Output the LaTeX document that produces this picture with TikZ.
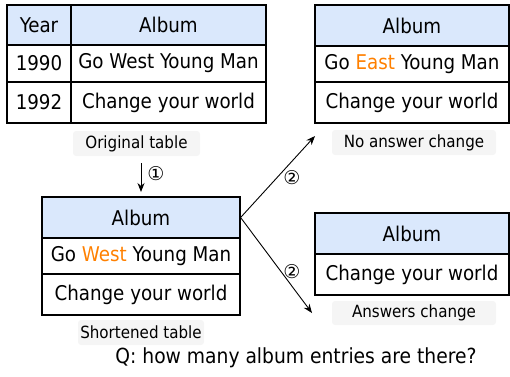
\documentclass[tikz,border=0pt]{standalone}
\usepackage{fontspec}
\setmainfont{DejaVu Sans Condensed}
\newfontfamily\symfont{DejaVu Sans}
\usetikzlibrary{arrows.meta}
\definecolor{hdrblue}{HTML}{DAE8FC}
\definecolor{hiorange}{HTML}{FF8000}
\definecolor{capgray}{HTML}{F5F5F5}
\tikzset{
  cell/.style={draw=black, line width=1.2pt, rectangle, inner sep=0pt, font=\fontsize{20.3}{23}\selectfont, text=black},
  hdr/.style={cell, fill=hdrblue},
  caption/.style={fill=capgray, rounded corners=3pt, inner sep=0pt, font=\fontsize{16.8}{19}\selectfont},
  conn/.style={line width=0.9pt, -{Stealth[length=9pt,width=7pt]}},
  steplabel/.style={font=\symfont\fontsize{19}{20}\selectfont, inner sep=0pt}
}
\begin{document}
\begin{tikzpicture}[x=1pt, y=-1pt]
\useasboundingbox (0,0) rectangle (510,376);
% Original table
\node[hdr, minimum width=64, minimum height=40] (yh) at (39,25) {Year};
\node[hdr, minimum width=195, minimum height=40] (ah) at (168.5,25) {Album};
\node[cell, minimum width=64, minimum height=37] (y1) at (39,63.5) {1990};
\node[cell, minimum width=195, minimum height=37] (a1) at (168.5,63.5) {Go West Young Man};
\node[cell, minimum width=64, minimum height=41] (y2) at (39,102.5) {1992};
\node[cell, minimum width=195, minimum height=41] (a2) at (168.5,102.5) {Change your world};
\node[caption, minimum width=127, minimum height=25] (c1) at (136.5,143.5) {Original table};
% Top-right table
\node[hdr, minimum width=194, minimum height=41] (th) at (412,25.5) {Album};
\node[cell, minimum width=194, minimum height=36] (t1) at (412,64) {Go \textcolor{hiorange}{East} Young Man};
\node[cell, minimum width=194, minimum height=41] (t2) at (412,102.5) {Change your world};
\node[caption, minimum width=164, minimum height=25] (c2) at (414,142.5) {No answer change};
% Shortened table
\node[hdr, minimum width=198, minimum height=41] (sh) at (141,217.5) {Album};
\node[cell, minimum width=198, minimum height=36] (s1) at (141,256) {Go \textcolor{hiorange}{West} Young Man};
\node[cell, minimum width=198, minimum height=41] (s2) at (141,294.5) {Change your world};
\node[caption, minimum width=126, minimum height=25] (c3) at (141,332.5) {Shortened table};
% Bottom-right table
\node[hdr, minimum width=194, minimum height=41] (bh) at (412,233.5) {Album};
\node[cell, minimum width=194, minimum height=41] (b1) at (412,274.5) {Change your world};
\node[caption, minimum width=164, minimum height=24] (c4) at (414,313) {Answers change};
% Question
\node[font=\fontsize{20.8}{23}\selectfont, inner sep=0pt] (q) at (296,358) {Q: how many album entries are there?};
% Connectors
\coordinate (a1s) at (141,163);
\coordinate (a1e) at (141,192);
\draw[conn] (a1s) -- (a1e);
\node[steplabel] (l1) at (156,174) {①};
\coordinate (upend) at (315,136);
\coordinate (dnend) at (312,313);
\draw[conn] (sh.east) -- (upend);
\draw[conn] (sh.east) -- (dnend);
\node[steplabel] (l2) at (292,178) {②};
\node[steplabel] (l3) at (292,272) {②};
\end{tikzpicture}
\end{document}
